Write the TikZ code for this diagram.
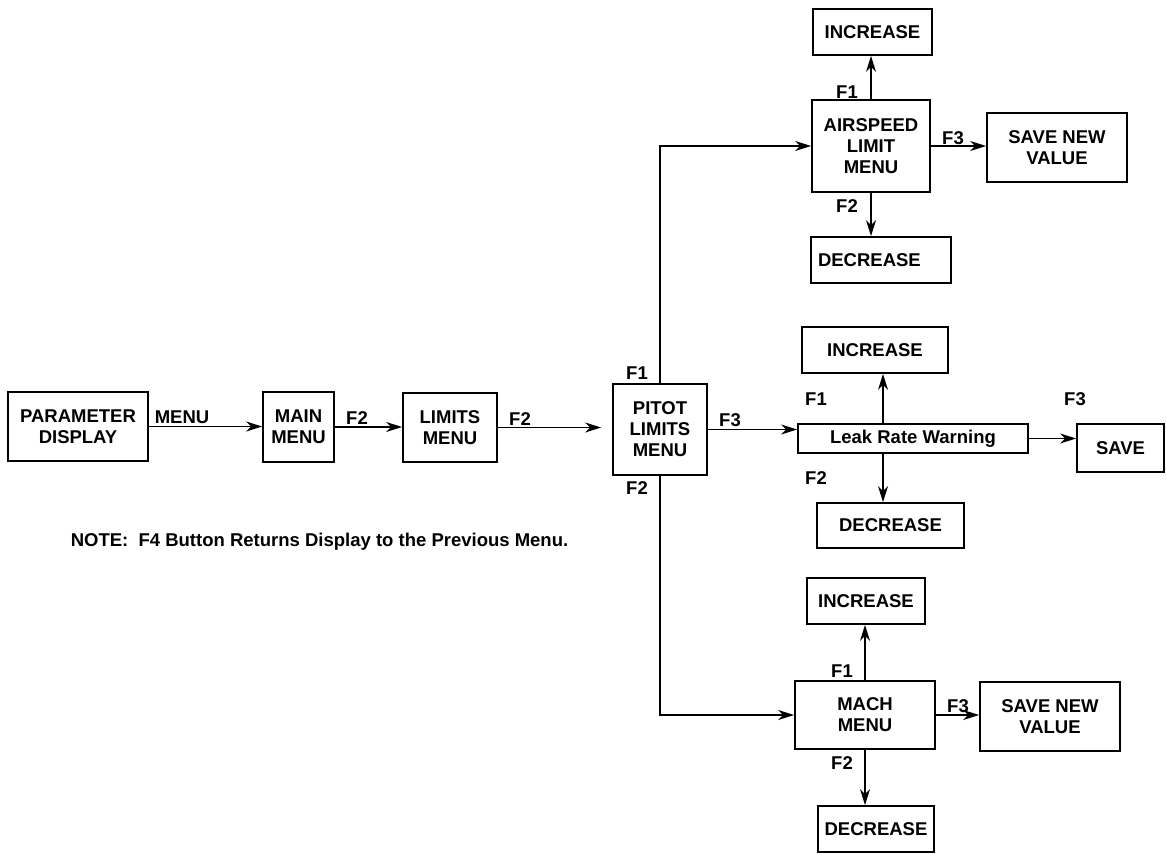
\documentclass[tikz,border=0pt]{standalone}
\usepackage{fontspec}
\setmainfont{Liberation Sans}
\usetikzlibrary{arrows.meta}

\begin{document}
\begin{tikzpicture}[x=1pt, y=-1pt, ->, >={Stealth[length=16pt,width=10pt,inset=5pt]}, line width=1.6pt,
    font=\bfseries\fontsize{18.5}{21}\selectfont,
    box/.style={draw, line width=1.8pt, align=center, inner sep=0pt},
    lbl/.style={inner sep=0pt}]
    \useasboundingbox (0,0) rectangle (1166,854);
    % main chain
    \node[box, minimum width=140pt, minimum height=69pt] (pd) at (78,426.5) {PARAMETER\\DISPLAY};
    \node[box, minimum width=71pt, minimum height=70pt] (mm) at (298.5,427) {MAIN\\MENU};
    \node[box, minimum width=94pt, minimum height=69pt] (lm) at (450,427.5) {LIMITS\\MENU};
    \node[box, minimum width=94pt, minimum height=91pt] (pitot) at (660,429.5) {PITOT\\LIMITS\\MENU};
    % airspeed
    \node[box, minimum width=118pt, minimum height=92pt] (asm) at (871,146) {AIRSPEED\\LIMIT\\MENU};
    \node[box, minimum width=119pt, minimum height=46pt] (asinc) at (872.5,32) {INCREASE};
    \node[box, text width=126pt, inner xsep=7pt, minimum height=46pt, align=left] (asdec) at (881,260) {DECREASE};
    \node[box, minimum width=140pt, minimum height=69pt] (assave) at (1057,147.5) {SAVE NEW\\VALUE};
    % leak rate
    \node[box, minimum width=230pt, minimum height=29pt] (lrw) at (913,438.5) {Leak Rate Warning};
    \node[box, minimum width=146pt, minimum height=46pt] (lrinc) at (875,350) {INCREASE};
    \node[box, minimum width=147pt, minimum height=45pt] (lrdec) at (890.5,525.5) {DECREASE};
    \node[box, minimum width=87pt, minimum height=48pt] (lrsave) at (1120.5,448) {SAVE};
    % mach
    \node[box, minimum width=140pt, minimum height=68pt] (mach) at (865,715) {MACH\\MENU};
    \node[box, minimum width=118pt, minimum height=46pt] (minc) at (866,601) {INCREASE};
    \node[box, minimum width=116pt, minimum height=46pt] (mdec) at (876,829) {DECREASE};
    \node[box, minimum width=140pt, minimum height=69pt] (msave) at (1050,716.5) {SAVE NEW\\VALUE};

    % key labels
    \node[lbl] (kmenu) at (182,417.5) {MENU};
    \node[lbl] (kf2a) at (357,418.5) {F2};
    \node[lbl] (kf2b) at (520,419) {F2};
    \node[lbl] (kf1p) at (637,373) {F1};
    \node[lbl] (kf3p) at (730,420) {F3};
    \node[lbl] (kf2p) at (637,488) {F2};
    \node[lbl] (kf1a) at (847,92) {F1};
    \node[lbl] (kf2as) at (847,206) {F2};
    \node[lbl] (kf3a) at (953,138.5) {F3};
    \node[lbl] (kf1l) at (816,399) {F1};
    \node[lbl] (kf2l) at (816,478.5) {F2};
    \node[lbl] (kf3l) at (1075,399) {F3};
    \node[lbl] (kf1m) at (842,671) {F1};
    \node[lbl] (kf2m) at (842,763) {F2};
    \node[lbl] (kf3m) at (958,706.5) {F3};
    \node[lbl] (note) at (319.5,542) {NOTE:\ \ F4 Button Returns Display to the Previous Menu.};

    \draw (pd) -- (pd -| mm.west);
    \draw (mm) -- (mm -| lm.west);
    \draw[shorten >=11pt] (lm) -- (lm -| pitot.west);
    \draw (pitot) -- (pitot -| lrw.west);
    \draw (pitot.north) |- (asm.west);
    \draw (pitot.south) |- (mach.west);
    % airspeed keys
    \draw (asm.north) -- (asinc.south -| asm.north);
    \draw (asm.south) -- (asm.south |- asdec.north);
    \draw (asm) -- (asm -| assave.west);
    % leak rate keys
    \draw ([xshift=-30pt]lrw.north) -- ([xshift=-30pt]lrw.north |- lrinc.south);
    \draw ([xshift=-30pt]lrw.south) -- ([xshift=-30pt]lrw.south |- lrdec.north);
    \draw (lrw) -- (lrw -| lrsave.west);
    % mach keys
    \draw (mach.north) -- (minc.south -| mach.north);
    \draw (mach.south) -- (mach.south |- mdec.north);
    \draw (mach) -- (mach -| msave.west);
\end{tikzpicture}
\end{document}
